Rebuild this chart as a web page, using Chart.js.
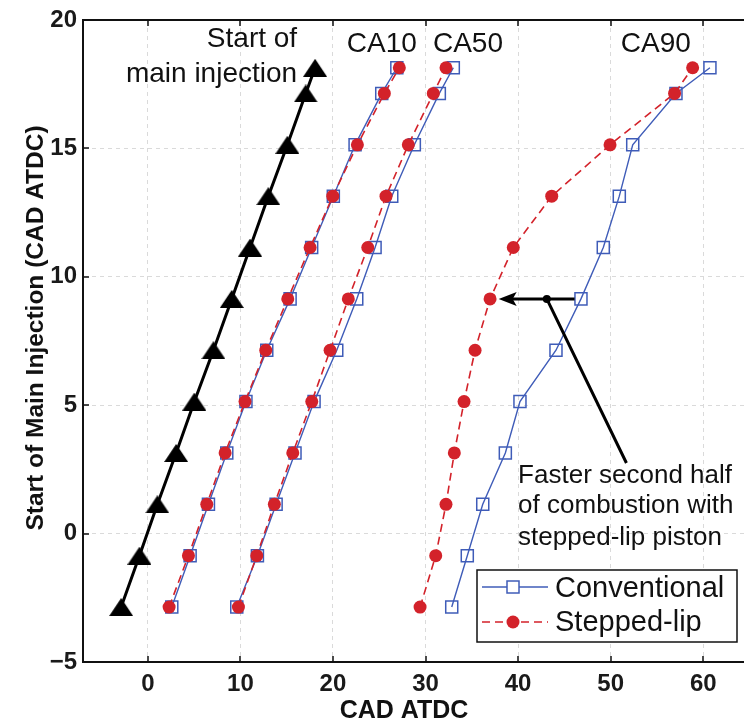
<!DOCTYPE html>
<html>
<head>
<meta charset="utf-8">
<script src="https://cdn.jsdelivr.net/npm/chart.js@4.4.1/dist/chart.umd.min.js"></script>
<style>
  html, body { margin: 0; padding: 0; background: #fff; overflow: hidden; }
</style>
</head>
<body>
<canvas id="chart" width="744" height="721"></canvas>
<script>
// Start of main injection (CAD ATDC), shared y value of every point
const soi = [-2.86, -0.86, 1.14, 3.14, 5.14, 7.14, 9.14, 11.14, 13.14, 15.14, 17.14, 18.14];
// start of main injection plotted against itself
const startMain = [-2.88, -0.9, 1.04, 3.06, 5.03, 7.09, 9.07, 11.05, 13.02, 15.08, 17.06, 18.07];

// Conventional piston
const ca10Conv = [2.59, 4.57, 6.55, 8.53, 10.6, 12.85, 15.37, 17.7, 20.04, 22.39, 25.27, 26.9];
const ca50Conv = [9.61, 11.84, 13.86, 15.9, 17.96, 20.41, 22.57, 24.55, 26.35, 28.79, 31.49, 33.0];
const ca90Conv = [32.83, 34.51, 36.18, 38.62, 40.2, 44.09, 46.79, 49.2, 50.93, 52.38, 57.05, 60.72];

// Stepped-lip piston
const ca10Step = [2.3, 4.39, 6.37, 8.35, 10.5, 12.74, 15.12, 17.53, 19.98, 22.64, 25.55, 27.17];
const ca50Step = [9.79, 11.77, 13.67, 15.66, 17.71, 19.69, 21.66, 23.76, 25.73, 28.14, 30.84, 32.21];
const ca90Step = [29.41, 31.1, 32.21, 33.11, 34.16, 35.35, 36.97, 39.48, 43.63, 49.93, 56.9, 58.85];

const xTicks = [0, 10, 20, 30, 40, 50, 60];
const yTicks = [-5, 0, 5, 10, 15, 20];

const RED = '#d3222a';
const BLUE = '#3f5cb8';
const FONT = '"Liberation Sans", Arial, Helvetica, sans-serif';

const pts = xs => xs.map((v, i) => ({ x: v, y: soi[i] }));

// filled triangle marker, a bit wider than tall like the original
function triangleMarker(w, h, color) {
    const c = document.createElement('canvas');
    c.width = w; c.height = h;
    const g = c.getContext('2d');
    g.fillStyle = color;
    g.beginPath();
    g.moveTo(w / 2, 0);
    g.lineTo(w, h);
    g.lineTo(0, h);
    g.closePath();
    g.fill();
    return c;
}

const stepStyle = {
    label: 'Stepped-lip', showLine: true, borderColor: RED, borderWidth: 1.6, borderDash: [8, 5],
    pointStyle: 'circle', pointRadius: 6.5, pointBackgroundColor: RED, pointBorderColor: RED, pointBorderWidth: 0
};
const convStyle = {
    label: 'Conventional', showLine: true, borderColor: BLUE, borderWidth: 1.4,
    pointStyle: 'rect', pointRadius: 8.5, pointBackgroundColor: 'rgba(0,0,0,0)', pointBorderColor: BLUE, pointBorderWidth: 1.5
};

// texts and arrow, anchored in data units
const notes = {
    startOf: { x: 16.13, y1: 18.95, y2: 17.59 },
    caLabels: [['CA10', 21.5], ['CA50', 30.8], ['CA90', 51.1]],
    caY: 18.75,
    faster: { x: 40.0, lines: [['Faster second half', 1.98], ['of combustion with', 0.79], ['stepped-lip piston', -0.43]] },
    arrow: { fromX: 46.1, toX: 37.9, y: 9.14, dotX: 43.1, endX: 51.7, endY: 2.75 }
};

const decor = {
    id: 'decor',
    afterDatasetsDraw(chart) {
        const { ctx, chartArea: a, scales: { x, y } } = chart;
        ctx.save();

        // top frame line and inward tick marks
        ctx.strokeStyle = '#111';
        ctx.lineWidth = 2;
        ctx.beginPath();
        ctx.moveTo(a.left - 1, a.top);
        ctx.lineTo(a.right, a.top);
        ctx.stroke();
        ctx.lineWidth = 1.5;
        ctx.beginPath();
        x.ticks.forEach(t => {
            const px = Math.round(x.getPixelForValue(t.value));
            ctx.moveTo(px, a.top); ctx.lineTo(px, a.top + 6);
            ctx.moveTo(px, a.bottom); ctx.lineTo(px, a.bottom - 6);
        });
        y.ticks.forEach(t => {
            const py = Math.round(y.getPixelForValue(t.value));
            ctx.moveTo(a.left, py); ctx.lineTo(a.left + 6, py);
        });
        ctx.stroke();

        // in-plot labels
        ctx.fillStyle = '#111';
        ctx.font = '28px ' + FONT;
        ctx.textBaseline = 'alphabetic';
        ctx.textAlign = 'right';
        const sx = x.getPixelForValue(notes.startOf.x);
        ctx.fillText('Start of', sx, y.getPixelForValue(notes.startOf.y1));
        ctx.fillText('main injection', sx, y.getPixelForValue(notes.startOf.y2));
        ctx.textAlign = 'left';
        notes.caLabels.forEach(([t, v]) => ctx.fillText(t, x.getPixelForValue(v), y.getPixelForValue(notes.caY)));

        ctx.font = '26px ' + FONT;
        notes.faster.lines.forEach(([t, v]) => ctx.fillText(t, x.getPixelForValue(notes.faster.x), y.getPixelForValue(v)));

        // arrow from conventional CA90 to stepped-lip CA90
        const ar = notes.arrow;
        const ay = y.getPixelForValue(ar.y);
        const tip = x.getPixelForValue(ar.toX);
        const dx = x.getPixelForValue(ar.dotX);
        ctx.strokeStyle = '#000';
        ctx.fillStyle = '#000';
        ctx.lineWidth = 3;
        ctx.beginPath();
        ctx.moveTo(x.getPixelForValue(ar.fromX), ay);
        ctx.lineTo(tip + 12, ay);
        ctx.moveTo(dx, ay);
        ctx.lineTo(x.getPixelForValue(ar.endX), y.getPixelForValue(ar.endY));
        ctx.stroke();
        ctx.beginPath();
        ctx.moveTo(tip, ay);
        ctx.lineTo(tip + 18, ay - 7);
        ctx.lineTo(tip + 14, ay);
        ctx.lineTo(tip + 18, ay + 7);
        ctx.closePath();
        ctx.fill();
        ctx.beginPath();
        ctx.arc(dx, ay, 4, 0, Math.PI * 2);
        ctx.fill();

        // legend box
        const bx = a.right - 267, by = a.bottom - 92, bw = 260, bh = 72;
        ctx.fillStyle = '#fff';
        ctx.fillRect(bx, by, bw, bh);
        ctx.strokeStyle = '#111';
        ctx.lineWidth = 1.5;
        ctx.strokeRect(bx, by, bw, bh);
        const r1 = by + 17, r2 = by + 52, lx1 = bx + 5, lx2 = bx + 71, mx = bx + 36;
        ctx.strokeStyle = BLUE;
        ctx.lineWidth = 1.4;
        ctx.beginPath(); ctx.moveTo(lx1, r1); ctx.lineTo(lx2, r1); ctx.stroke();
        ctx.lineWidth = 1.5;
        ctx.fillStyle = '#fff';
        ctx.fillRect(mx - 6, r1 - 6, 12, 12);
        ctx.strokeRect(mx - 6, r1 - 6, 12, 12);
        ctx.strokeStyle = RED;
        ctx.lineWidth = 1.6;
        ctx.setLineDash([8, 5]);
        ctx.beginPath(); ctx.moveTo(lx1, r2); ctx.lineTo(lx2, r2); ctx.stroke();
        ctx.setLineDash([]);
        ctx.fillStyle = RED;
        ctx.beginPath(); ctx.arc(mx, r2, 6.5, 0, Math.PI * 2); ctx.fill();
        ctx.fillStyle = '#111';
        ctx.font = '29px ' + FONT;
        ctx.fillText('Conventional', bx + 78, r1 + 10);
        ctx.fillText('Stepped-lip', bx + 78, r2 + 9);

        // axis titles
        ctx.font = 'bold 25px ' + FONT;
        ctx.textAlign = 'center';
        ctx.fillText('CAD ATDC', 404, 718);
        ctx.translate(43, 328);
        ctx.rotate(-Math.PI / 2);
        ctx.font = 'bold 24.5px ' + FONT;
        ctx.fillText('Start of Main Injection (CAD ATDC)', 0, 0);
        ctx.restore();
    }
};

const tickFont = { family: FONT, size: 24, weight: 'bold' };

new Chart(document.getElementById('chart').getContext('2d'), {
    type: 'scatter',
    data: {
        datasets: [
            { ...stepStyle, data: pts(ca10Step) },
            { ...stepStyle, data: pts(ca50Step) },
            { ...stepStyle, data: pts(ca90Step) },
            { ...convStyle, data: pts(ca10Conv) },
            { ...convStyle, data: pts(ca50Conv) },
            { ...convStyle, data: pts(ca90Conv) },
            {
                label: 'Start of main injection', data: startMain.map((v, i) => ({ x: v, y: soi[i] })),
                showLine: true, borderColor: '#000', borderWidth: 3,
                pointStyle: triangleMarker(24, 18, '#000'), pointRadius: 10
            }
        ]
    },
    options: {
        responsive: false,
        animation: false,
        layout: { autoPadding: false, padding: { top: 20, right: 0, left: 0, bottom: 0 } },
        plugins: { legend: { display: false }, tooltip: { enabled: false } },
        scales: {
            x: {
                type: 'linear', min: -7, max: 64.4,
                afterBuildTicks: s => { s.ticks = xTicks.map(v => ({ value: v })); },
                afterFit: s => { s.height = 59; s.paddingLeft = 0; s.paddingRight = 0; },
                ticks: { font: tickFont, color: '#1a1a1a', padding: 8, maxRotation: 0 },
                grid: { color: '#dadada', lineWidth: 1, drawTicks: false },
                border: { display: true, color: '#111', width: 2, dash: [4, 4] }
            },
            y: {
                type: 'linear', min: -5, max: 20,
                afterBuildTicks: s => { s.ticks = yTicks.map(v => ({ value: v })); },
                afterFit: s => { s.width = 83; s.paddingTop = 0; s.paddingBottom = 0; },
                ticks: {
                    font: tickFont, color: '#1a1a1a', padding: 6,
                    callback: v => String(v).replace('-', '\u2212')
                },
                grid: { color: '#dadada', lineWidth: 1, drawTicks: false },
                border: { display: true, color: '#111', width: 2, dash: [4, 4] }
            }
        }
    },
    plugins: [decor]
});
</script>
</body>
</html>
